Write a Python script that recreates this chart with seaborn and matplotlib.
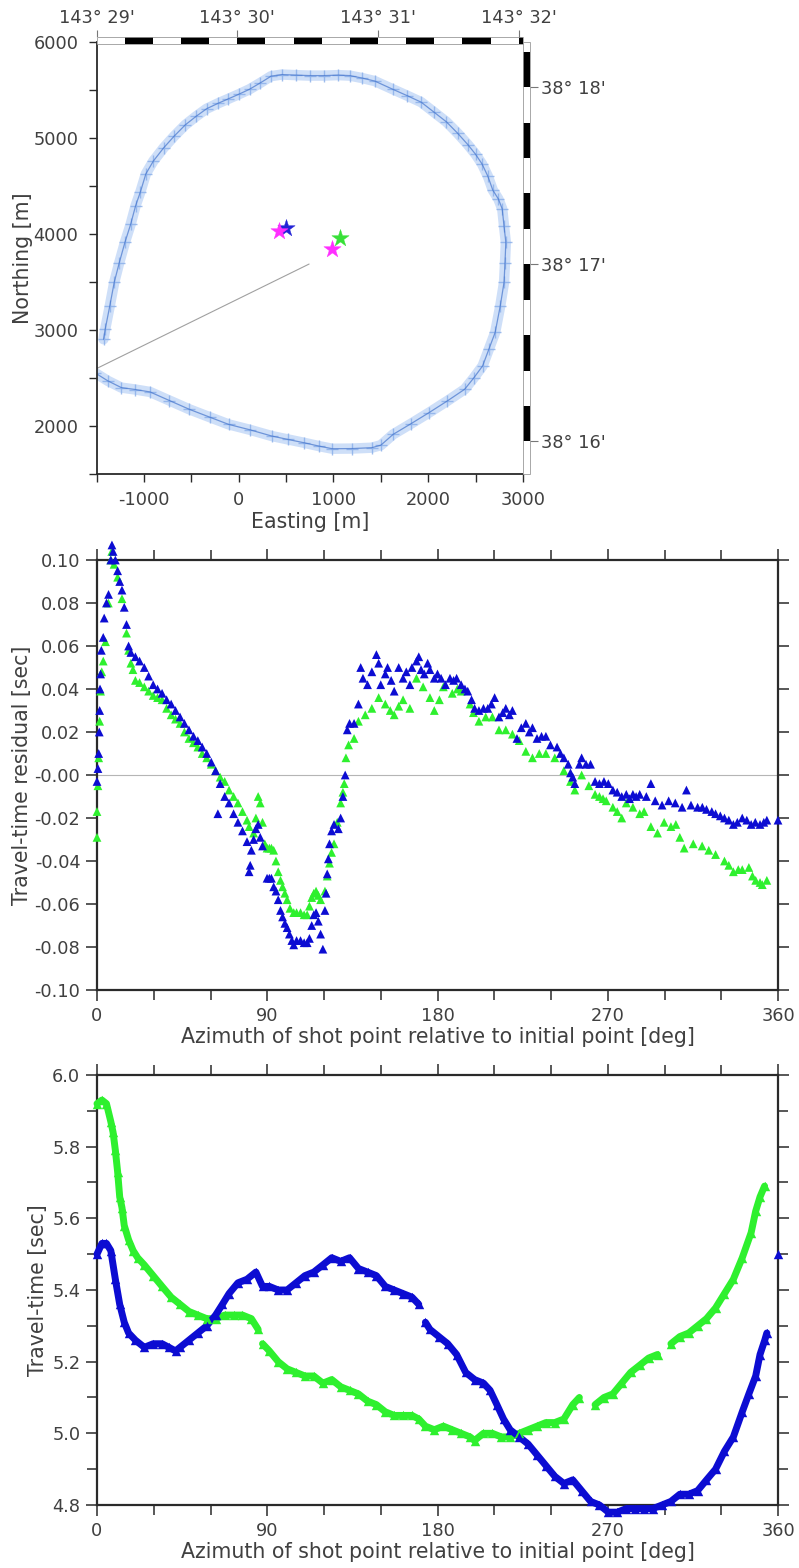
import matplotlib
matplotlib.use("Agg")
import numpy as np
import pandas as pd
import matplotlib.pyplot as plt
import matplotlib.transforms as mtransforms
from matplotlib.patches import Rectangle
from matplotlib.ticker import MultipleLocator
import seaborn as sns

# ---------------- survey track, local easting / northing [m] ----------------
track_east = [-1426, -1408, -1360, -1313, -1260, -1200, -1140, -1087, -1036, -979,
              -900, -791, -680, -564, -450, -338, -220, -111, 0, 115,
              230, 342, 455, 600, 750, 900, 1050, 1172, 1300, 1436,
              1625, 1780, 1926, 2060, 2191, 2310, 2417, 2500, 2568, 2630,
              2681, 2740, 2781, 2800, 2819, 2810, 2800, 2760, 2706, 2640,
              2574, 2480, 2385, 2200, 2008, 1820, 1630, 1500, 1404, 1200,
              989, 850, 687, 520, 347, 120, -106, -300, -521, -730,
              -936, -1090, -1238, -1380, -1521]
track_north = [2904, 3009, 3250, 3496, 3700, 3913, 4100, 4296, 4441, 4627,
               4760, 4898, 5020, 5136, 5225, 5305, 5360, 5407, 5455, 5508,
               5575, 5644, 5661, 5655, 5650, 5650, 5655, 5650, 5625, 5593,
               5508, 5440, 5373, 5270, 5169, 5050, 4932, 4830, 4729, 4600,
               4458, 4365, 4261, 4080, 3913, 3700, 3496, 3250, 2974, 2800,
               2626, 2500, 2383, 2260, 2139, 2025, 1913, 1800, 1774, 1765,
               1763, 1790, 1826, 1860, 1896, 1960, 2017, 2090, 2174, 2265,
               2355, 2380, 2400, 2470, 2557]

# station / source positions
star_east = [498, 423, 1072, 989]
star_north = [4059, 4028, 3955, 3843]
star_colors = ["#2323d6", "#ff2eff", "#38e038", "#ff2eff"]

# line from the initial point towards the centre
ray_east = [-1500, 743]
ray_north = [2598, 3687]

east_ticks = [-1000, 0, 1000, 2000, 3000]
east_labels = ["-1000", "0", "1000", "2000", "3000"]
north_ticks = [2000, 3000, 4000, 5000, 6000]
north_labels = ["2000", "3000", "4000", "5000", "6000"]
lon_ticks = [29, 30, 31, 32]
lon_labels = ["143° 29'", "143° 30'", "143° 31'", "143° 32'"]
lat_ticks = [16, 17, 18]
lat_labels = ["38° 16'", "38° 17'", "38° 18'"]

# ---------------- travel-time residuals [sec] ----------------
res_az_blue = [0, 0.5, 0.9, 1.2, 1.4, 1.6, 1.9, 2.3, 3.3, 3.8, 5.0, 6.1, 7.3, 7.9, 8.5,
               9.7, 10.9, 12.0, 13.2, 14.4, 15.6, 16.7, 17.9, 20.3, 22.5, 25.0, 27.3,
               29.7, 32.0, 34.4, 36.8, 39.2, 41.5, 43.9, 46.2, 48.6, 51.0, 53.3, 55.6,
               58.0, 60.4, 62.7, 63.9, 65.1, 67.5, 69.8, 72.2, 74.5, 76.9, 79.3, 80.4,
               81.0, 81.6, 82.8, 84.0, 85.2, 86.3, 87.5, 89.9, 91.1, 92.2, 93.4, 94.6,
               95.8, 97.0, 98.1, 99.3, 100.5, 101.7, 103.0, 104.0, 105.5, 107.6, 109.5,
               111.1, 112.3, 113.5, 114.6, 115.8, 117.0, 118.2, 119.4, 120.5, 121.1,
               121.7, 122.3, 122.9, 124.0, 125.3, 127.6, 128.8, 130.0, 131.2, 132.3,
               133.5, 135.9, 138.2, 139.4, 140.6, 143.0, 145.3, 147.7, 148.9, 150.0,
               152.4, 153.6, 155.5, 157.1, 159.5, 161.8, 163.5, 165.4, 166.5, 168.9,
               170.1, 171.3, 173.0, 174.8, 176.0, 178.3, 180.0, 181.9, 184.2, 186.6,
               188.5, 190.1, 192.5, 194.5, 196.0, 198.0, 199.6, 201.9, 204.3, 206.6,
               208.5, 210.2, 212.5, 214.5, 216.1, 218.0, 219.6, 222.0, 224.3, 226.7,
               228.5, 230.2, 232.6, 235.0, 237.3, 239.7, 243.2, 245.0, 246.8, 249.1,
               250.3, 251.5, 252.6, 255.0, 256.2, 258.5, 260.9, 263.3, 265.6, 268.0,
               270.3, 272.7, 275.0, 277.4, 279.8, 281.5, 283.3, 285.0, 286.9, 290.4,
               292.8, 295.1, 298.7, 302.2, 305.7, 309.3, 311.6, 314.0, 317.5, 320.0,
               322.2, 325.0, 327.0, 329.5, 331.7, 334.0, 336.4, 338.5, 341.1, 343.5,
               345.8, 348.0, 350.5, 352.5, 354.1, 360.0]
res_blue = [-0.003, 0.003, 0.010, 0.020, 0.030, 0.040, 0.047, 0.058, 0.064, 0.073, 0.080,
            0.084, 0.100, 0.107, 0.104, 0.100, 0.095, 0.090, 0.086, 0.078, 0.070, 0.060,
            0.057, 0.055, 0.053, 0.050, 0.046, 0.042, 0.040, 0.038, 0.035, 0.033, 0.030,
            0.027, 0.024, 0.021, 0.018, 0.016, 0.013, 0.010, 0.006, 0.002, -0.018, -0.004,
            -0.010, -0.013, -0.018, -0.022, -0.026, -0.031, -0.045, -0.042, -0.035, -0.030,
            -0.025, -0.023, -0.029, -0.033, -0.048, -0.048, -0.048, -0.052, -0.054, -0.058,
            -0.063, -0.066, -0.069, -0.071, -0.074, -0.077, -0.079, -0.077, -0.077, -0.078,
            -0.078, -0.076, -0.070, -0.065, -0.064, -0.068, -0.074, -0.081, -0.063, -0.055,
            -0.046, -0.039, -0.032, -0.026, -0.023, -0.025, -0.020, -0.010, 0.000, 0.021,
            0.024, 0.024, 0.033, 0.050, 0.045, 0.042, 0.048, 0.056, 0.052, 0.042,
            0.047, 0.050, 0.044, 0.039, 0.050, 0.045, 0.048, 0.042, 0.050, 0.053,
            0.055, 0.049, 0.047, 0.052, 0.049, 0.045, 0.047, 0.045, 0.042, 0.045,
            0.044, 0.045, 0.042, 0.040, 0.039, 0.035, 0.031, 0.030, 0.031, 0.031,
            0.033, 0.036, 0.027, 0.029, 0.031, 0.028, 0.030, 0.017, 0.022, 0.024,
            0.020, 0.022, 0.017, 0.018, 0.018, 0.014, 0.013, 0.010, 0.008, 0.005,
            0.001, -0.001, -0.004, 0.005, 0.008, 0.005, 0.005, -0.003, -0.004, -0.003,
            -0.004, -0.007, -0.008, -0.010, -0.009, -0.011, -0.009, -0.010, -0.009, -0.010,
            -0.004, -0.012, -0.014, -0.012, -0.013, -0.015, -0.007, -0.014, -0.015, -0.015,
            -0.016, -0.017, -0.018, -0.019, -0.020, -0.021, -0.023, -0.022, -0.020, -0.021,
            -0.023, -0.022, -0.023, -0.022, -0.021, -0.021]

res_az_green = [0, 0, 0.5, 0.9, 1.4, 1.9, 2.5, 3.3, 4.5, 6.0, 7.3, 7.8, 9.0, 10.9, 13.2,
                15.6, 16.7, 17.9, 19.0, 20.3, 22.5, 25.0, 27.3, 29.7, 32.0, 34.4, 36.8,
                39.2, 41.5, 43.9, 46.2, 48.6, 51.0, 53.3, 55.6, 58.0, 60.4, 62.7, 65.1,
                67.5, 69.8, 72.2, 74.5, 76.9, 79.3, 80.4, 82.8, 84.0, 85.2, 86.3, 87.5,
                88.7, 89.9, 91.1, 92.2, 93.4, 94.6, 95.8, 97.0, 98.1, 99.3, 100.5, 102.0,
                104.0, 105.5, 107.6, 109.5, 111.1, 112.3, 113.5, 114.6, 115.8, 117.0,
                118.2, 120.5, 121.7, 122.9, 124.0, 125.3, 127.0, 128.8, 130.0, 130.7,
                131.6, 133.0, 135.9, 138.2, 141.8, 145.3, 148.9, 152.4, 155.0, 157.1,
                159.5, 161.8, 165.4, 168.9, 172.4, 176.0, 178.3, 181.0, 183.1, 187.8,
                190.5, 192.5, 197.2, 199.0, 201.9, 205.5, 209.0, 212.5, 216.1, 219.6,
                223.2, 226.7, 230.2, 233.8, 237.3, 242.0, 246.8, 250.3, 252.6, 256.2,
                260.0, 263.3, 265.6, 267.5, 269.2, 272.7, 275.0, 277.4, 279.8, 283.3,
                286.9, 289.2, 292.8, 296.3, 299.8, 303.4, 306.0, 308.1, 310.4, 315.2,
                319.9, 323.4, 327.0, 331.7, 334.0, 336.4, 339.0, 341.1, 344.6, 346.5,
                348.2, 350.5, 351.7, 354.1]
res_green = [-0.029, -0.017, -0.005, 0.008, 0.025, 0.039, 0.048, 0.053, 0.062, 0.080,
             0.100, 0.104, 0.098, 0.092, 0.082, 0.066, 0.058, 0.052, 0.049, 0.044,
             0.043, 0.041, 0.039, 0.037, 0.036, 0.035, 0.031, 0.028, 0.026, 0.024,
             0.020, 0.017, 0.015, 0.013, 0.010, 0.008, 0.005, 0.002, -0.001, -0.003,
             -0.007, -0.010, -0.013, -0.017, -0.021, -0.024, -0.027, -0.020, -0.010, -0.013,
             -0.022, -0.032, -0.034, -0.034, -0.034, -0.035, -0.040, -0.045, -0.049, -0.052,
             -0.055, -0.058, -0.062, -0.064, -0.064, -0.064, -0.065, -0.065, -0.061, -0.057,
             -0.055, -0.054, -0.056, -0.058, -0.054, -0.047, -0.041, -0.036, -0.032, -0.022,
             -0.013, -0.008, -0.004, 0.008, 0.014, 0.017, 0.025, 0.028, 0.031, 0.036,
             0.033, 0.030, 0.028, 0.032, 0.035, 0.031, 0.045, 0.041, 0.036, 0.030,
             0.035, 0.041, 0.038, 0.040, 0.039, 0.033, 0.029, 0.025, 0.027, 0.027,
             0.021, 0.021, 0.019, 0.016, 0.011, 0.008, 0.010, 0.010, 0.008, 0.002,
             -0.003, -0.007, 0.000, -0.005, -0.009, -0.010, -0.011, -0.012, -0.015, -0.017,
             -0.020, -0.013, -0.015, -0.018, -0.017, -0.024, -0.027, -0.022, -0.024, -0.023,
             -0.029, -0.034, -0.032, -0.033, -0.035, -0.037, -0.040, -0.042, -0.045, -0.044,
             -0.044, -0.043, -0.047, -0.049, -0.050, -0.051, -0.049]

res_ticks = [0.10, 0.08, 0.06, 0.04, 0.02, 0.0, -0.02, -0.04, -0.06, -0.08, -0.10]
res_labels = ["0.10", "0.08", "0.06", "0.04", "0.02", "-0.00",
              "-0.02", "-0.04", "-0.06", "-0.08", "-0.10"]

# ---------------- travel times [sec] ----------------
tt_az_blue = [0, 2.6, 5.0, 7.3, 9.7, 12.0, 14.4, 16.7, 20.3, 25.0, 29.7, 34.4, 38.0, 41.5,
              43.9, 48.6, 53.3, 58.0, 62.7, 66.3, 69.8, 74.5, 79.3, 84.0, 87.5, 91.1,
              95.8, 100.5, 105.2, 109.9, 114.6, 119.4, 124.1, 128.8, 133.5, 138.2, 143.0,
              147.7, 152.4, 157.1, 161.8, 166.5, 170.1, 173.6, 176.0, 180.7, 185.4, 190.1,
              194.9, 199.6, 204.3, 207.8, 211.4, 214.9, 218.4, 223.2, 227.9, 232.6, 237.3,
              242.0, 246.8, 251.5, 256.2, 260.9, 265.6, 270.3, 275.1, 279.8, 284.5, 289.2,
              293.9, 298.7, 303.4, 308.1, 312.8, 317.5, 322.2, 327.0, 331.7, 336.4, 341.1,
              344.6, 348.2, 350.5, 353.0, 354.1, 360.0]
tt_blue = [5.50, 5.53, 5.53, 5.51, 5.43, 5.36, 5.31, 5.28, 5.26, 5.24, 5.25, 5.25, 5.24,
           5.23, 5.24, 5.26, 5.28, 5.30, 5.33, 5.36, 5.39, 5.42, 5.43, 5.45, 5.41, 5.41,
           5.40, 5.40, 5.42, 5.44, 5.45, 5.47, 5.49, 5.48, 5.49, 5.46, 5.45, 5.44, 5.41,
           5.40, 5.39, 5.38, 5.36, 5.31, 5.29, 5.27, 5.25, 5.22, 5.17, 5.15, 5.14, 5.12,
           5.08, 5.04, 5.01, 4.99, 4.97, 4.94, 4.91, 4.88, 4.86, 4.87, 4.84, 4.81, 4.80,
           4.78, 4.78, 4.79, 4.79, 4.79, 4.79, 4.80, 4.81, 4.83, 4.83, 4.84, 4.87, 4.90,
           4.95, 4.99, 5.06, 5.11, 5.16, 5.22, 5.26, 5.28, 5.50]
tt_breaks_blue = [172.0, 357.0]

tt_az_green = [0, 2.6, 5.0, 7.3, 8.5, 9.7, 10.9, 12.0, 13.2, 14.4, 16.7, 19.1, 21.5, 25.0,
               29.7, 34.4, 39.2, 43.9, 48.6, 53.3, 58.0, 62.7, 67.5, 72.2, 76.9, 81.6,
               85.2, 87.5, 91.1, 95.8, 100.5, 105.2, 109.9, 114.6, 119.4, 124.1, 128.8,
               133.5, 138.2, 143.0, 147.7, 152.4, 157.1, 161.8, 166.5, 170.1, 173.6, 178.3,
               183.1, 187.8, 192.5, 197.2, 199.6, 204.3, 209.0, 213.7, 218.4, 223.2, 227.9,
               232.6, 237.3, 242.0, 246.8, 251.5, 255.0, 263.3, 268.0, 272.7, 277.4, 282.1,
               286.9, 291.6, 296.3, 303.4, 308.1, 312.8, 317.5, 322.2, 327.0, 331.7, 336.4,
               341.1, 345.8, 348.2, 350.5, 352.9]
tt_green = [5.92, 5.93, 5.92, 5.87, 5.84, 5.79, 5.73, 5.66, 5.63, 5.58, 5.54, 5.51, 5.49,
            5.47, 5.44, 5.41, 5.38, 5.36, 5.34, 5.33, 5.32, 5.32, 5.33, 5.33, 5.33, 5.32,
            5.29, 5.25, 5.23, 5.20, 5.18, 5.17, 5.16, 5.16, 5.14, 5.15, 5.13, 5.12, 5.11,
            5.09, 5.08, 5.06, 5.05, 5.05, 5.05, 5.04, 5.02, 5.01, 5.02, 5.01, 5.00, 4.99,
            4.98, 5.00, 5.00, 4.99, 4.99, 5.00, 5.01, 5.02, 5.03, 5.03, 5.04, 5.08, 5.10,
            5.08, 5.10, 5.11, 5.14, 5.17, 5.19, 5.21, 5.22, 5.25, 5.27, 5.28, 5.30, 5.32,
            5.35, 5.39, 5.43, 5.49, 5.56, 5.62, 5.66, 5.69]
tt_breaks_green = [86.4, 259.0, 300.0]

tt_ticks = [4.8, 5.0, 5.2, 5.4, 5.6, 5.8, 6.0]
tt_labels = ["4.8", "5.0", "5.2", "5.4", "5.6", "5.8", "6.0"]

az_ticks = [0, 90, 180, 270, 360]
az_labels = ["0", "90", "180", "270", "360"]

AZ_LABEL = "Azimuth of shot point relative to initial point [deg]"

# ---------------- style ----------------
sns.set_theme(style="ticks")
plt.rcParams["font.family"] = ["DejaVu Sans"]
TICK_FS = 12.8
LABEL_FS = 14.8
TEXT_C = "#404040"
FRAME_C = "#2a2a2a"
BLUE = "#0c0cd2"
GREEN = "#2ef02e"
TRACK_C = "#5f91e0"

W, H = 799, 1568
fig = plt.figure(figsize=(W / 100, H / 100), dpi=100)


def px_axes(left, top, right, bottom):
    return fig.add_axes([left / W, 1 - bottom / H, (right - left) / W, (bottom - top) / H])


# map conversions: minutes of arc <-> local metres
LON_REF, EAST_REF, M_PER_LON_MIN = 29.0, -1500.0, 1485.0
LAT_REF, NORTH_REF, M_PER_LAT_MIN = 16.0, 1840.0, 1845.0


def east_to_lon(e):
    return LON_REF + (np.asarray(e, dtype=float) - EAST_REF) / M_PER_LON_MIN


def lon_to_east(m):
    return EAST_REF + (np.asarray(m, dtype=float) - LON_REF) * M_PER_LON_MIN


def north_to_lat(n):
    return LAT_REF + (np.asarray(n, dtype=float) - NORTH_REF) / M_PER_LAT_MIN


def lat_to_north(m):
    return NORTH_REF + (np.asarray(m, dtype=float) - LAT_REF) * M_PER_LAT_MIN


# ================= panel 1 : map of the track =================
ax1 = px_axes(96.5, 42, 523, 474)
ax1.set_xlim(-1500, 3000)
ax1.set_ylim(1500, 6000)

track = pd.DataFrame({"east": track_east, "north": track_north})
sns.lineplot(data=track, x="east", y="north", sort=False, estimator=None,
             color="#86afee", lw=7.5, alpha=0.4, ax=ax1)
sns.lineplot(data=track, x="east", y="north", sort=False, estimator=None,
             color="#3a6cc8", lw=0.9, alpha=0.65, ax=ax1)
sns.scatterplot(data=track, x="east", y="north", marker="+", s=75, color=TRACK_C,
                linewidth=1.0, alpha=0.6, ax=ax1)

sns.lineplot(x=ray_east, y=ray_north, color="#a0a0a0", lw=0.8, sort=False,
             estimator=None, ax=ax1)

stars = pd.DataFrame({"east": star_east, "north": star_north, "c": star_colors})
for _, r in stars.iterrows():
    sns.scatterplot(x=[r.east], y=[r.north], marker="*", s=170, color=r.c,
                    edgecolor=r.c, linewidth=0.3, ax=ax1, zorder=6)

ax1.set_xticks(east_ticks)
ax1.set_xticklabels(east_labels)
ax1.set_yticks(north_ticks)
ax1.set_yticklabels(north_labels)
ax1.xaxis.set_minor_locator(MultipleLocator(500))
ax1.yaxis.set_minor_locator(MultipleLocator(500))
ax1.tick_params(which="both", direction="out", length=6, width=1.0, color=FRAME_C,
                labelsize=TICK_FS, labelcolor=TEXT_C, top=False, right=False)
ax1.tick_params(axis="y", pad=7)
ax1.tick_params(axis="x", pad=6)
ax1.set_xlabel("Easting [m]", fontsize=LABEL_FS, color=TEXT_C, va="top")
ax1.set_ylabel("Northing [m]", fontsize=LABEL_FS, color=TEXT_C)
ax1.xaxis.set_label_coords(0.5, -0.088)
ax1.yaxis.set_label_coords(-0.150, 0.5)
for side in ("left", "bottom"):
    ax1.spines[side].set_color(FRAME_C)
    ax1.spines[side].set_linewidth(1.3)
for side in ("top", "right"):
    ax1.spines[side].set_color("#9a9a9a")
    ax1.spines[side].set_linewidth(0.6)

# alternating black / white map frame along the top (longitude) and right (latitude)
xb = mtransforms.blended_transform_factory(ax1.transData, ax1.transAxes)
yb = mtransforms.blended_transform_factory(ax1.transAxes, ax1.transData)
top_y0, top_y1 = 1.0 - 2 / 432, 1.0 + 5 / 432
lon_edges = np.arange(29.0, 32.41, 0.2)
for k in range(len(lon_edges) - 1):
    a = max(float(lon_to_east(lon_edges[k])), -1500)
    b = min(float(lon_to_east(lon_edges[k + 1])), 3000)
    if b > a:
        ax1.add_patch(Rectangle((a, top_y0), b - a, top_y1 - top_y0, transform=xb,
                                facecolor="black" if k % 2 else "white",
                                edgecolor="none", clip_on=False, zorder=5))
ax1.add_patch(Rectangle((-1500, top_y0), 4500, top_y1 - top_y0, transform=xb, fill=False,
                        edgecolor="#9a9a9a", lw=0.6, clip_on=False, zorder=6))

rt_x0, rt_x1 = 1.0, 1.0 + 7 / 426.5
lat_edges = np.arange(15.8, 18.61, 0.2)
for k in range(len(lat_edges) - 1):
    a = max(float(lat_to_north(lat_edges[k])), 1500)
    b = min(float(lat_to_north(lat_edges[k + 1])), 6000)
    if b > a:
        ax1.add_patch(Rectangle((rt_x0, a), rt_x1 - rt_x0, b - a, transform=yb,
                                facecolor="black" if k % 2 else "white",
                                edgecolor="none", clip_on=False, zorder=5))
ax1.add_patch(Rectangle((rt_x0, 1500), rt_x1 - rt_x0, 4500, transform=yb, fill=False,
                        edgecolor="#9a9a9a", lw=0.6, clip_on=False, zorder=6))

sec_top = ax1.secondary_xaxis(top_y1, functions=(east_to_lon, lon_to_east))
sec_top.set_xticks(lon_ticks)
sec_top.set_xticklabels(lon_labels)
sec_top.tick_params(direction="out", length=5, width=0.8, color="#777777",
                    labelsize=TICK_FS, labelcolor=TEXT_C, pad=2)
sec_top.spines["top"].set_visible(False)

sec_rt = ax1.secondary_yaxis(rt_x1, functions=(north_to_lat, lat_to_north))
sec_rt.set_yticks(lat_ticks)
sec_rt.set_yticklabels(lat_labels)
sec_rt.tick_params(direction="out", length=6, width=0.8, color="#777777",
                   labelsize=TICK_FS, labelcolor=TEXT_C, pad=2)
sec_rt.spines["right"].set_visible(False)


# ================= shared styling for the azimuth panels =================
def style_az_axes(ax, yticks, ylabels, ylabel, ylabel_x):
    ax.set_xlim(0, 360)
    ax.set_xticks(az_ticks)
    ax.set_xticklabels(az_labels)
    ax.xaxis.set_minor_locator(MultipleLocator(30))
    ax.set_yticks(yticks)
    ax.set_yticklabels(ylabels)
    ax.tick_params(which="both", direction="out", top=True, right=True,
                   labeltop=False, labelright=False, color=FRAME_C,
                   labelsize=TICK_FS, labelcolor=TEXT_C, width=1.1)
    ax.tick_params(which="major", length=8, pad=4)
    ax.tick_params(which="minor", length=7)
    for s in ax.spines.values():
        s.set_color(FRAME_C)
        s.set_linewidth(1.6)
    ax.set_xlabel(AZ_LABEL, fontsize=LABEL_FS, color=TEXT_C, va="top")
    ax.set_ylabel(ylabel, fontsize=LABEL_FS, color=TEXT_C)
    ax.xaxis.set_label_coords(0.5, -0.085)
    ax.yaxis.set_label_coords(ylabel_x, 0.5)


# ================= panel 2 : residuals =================
ax2 = px_axes(97, 560, 778, 990)
ax2.set_ylim(-0.10, 0.10)
ax2.axhline(0.0, color="#b5b5b5", lw=0.8, zorder=1)
res_df = pd.concat([
    pd.DataFrame({"az": res_az_green, "val": res_green, "site": "site_b"}),
    pd.DataFrame({"az": res_az_blue, "val": res_blue, "site": "site_a"}),
], ignore_index=True)
sns.scatterplot(data=res_df, x="az", y="val", hue="site",
                palette={"site_a": BLUE, "site_b": GREEN}, marker="^", s=40,
                linewidth=0, legend=False, ax=ax2, clip_on=False, zorder=3)
style_az_axes(ax2, res_ticks, res_labels, "Travel-time residual [sec]", -0.095)

# ================= panel 3 : travel times =================
ax3 = px_axes(97, 1075, 778, 1505)
ax3.set_ylim(4.8, 6.0)
ax3.yaxis.set_minor_locator(MultipleLocator(0.1))
tt_df = pd.concat([
    pd.DataFrame({"az": tt_az_green, "val": tt_green, "site": "site_b",
                  "seg": ["b%d" % i for i in np.searchsorted(tt_breaks_green, tt_az_green)]}),
    pd.DataFrame({"az": tt_az_blue, "val": tt_blue, "site": "site_a",
                  "seg": ["a%d" % i for i in np.searchsorted(tt_breaks_blue, tt_az_blue)]}),
], ignore_index=True)
pal = {"site_a": BLUE, "site_b": GREEN}
for site in ["site_b", "site_a"]:
    part = tt_df[tt_df.site == site]
    sns.lineplot(data=part, x="az", y="val", units="seg", estimator=None, sort=False,
                 color=pal[site], lw=5.0, legend=False, ax=ax3, clip_on=False, zorder=3)
    sns.scatterplot(data=part, x="az", y="val", color=pal[site], marker="^", s=46,
                    linewidth=0, legend=False, ax=ax3, clip_on=False, zorder=4)
style_az_axes(ax3, tt_ticks, tt_labels, "Travel-time [sec]", -0.072)

fig.savefig("out.png", dpi=100)
